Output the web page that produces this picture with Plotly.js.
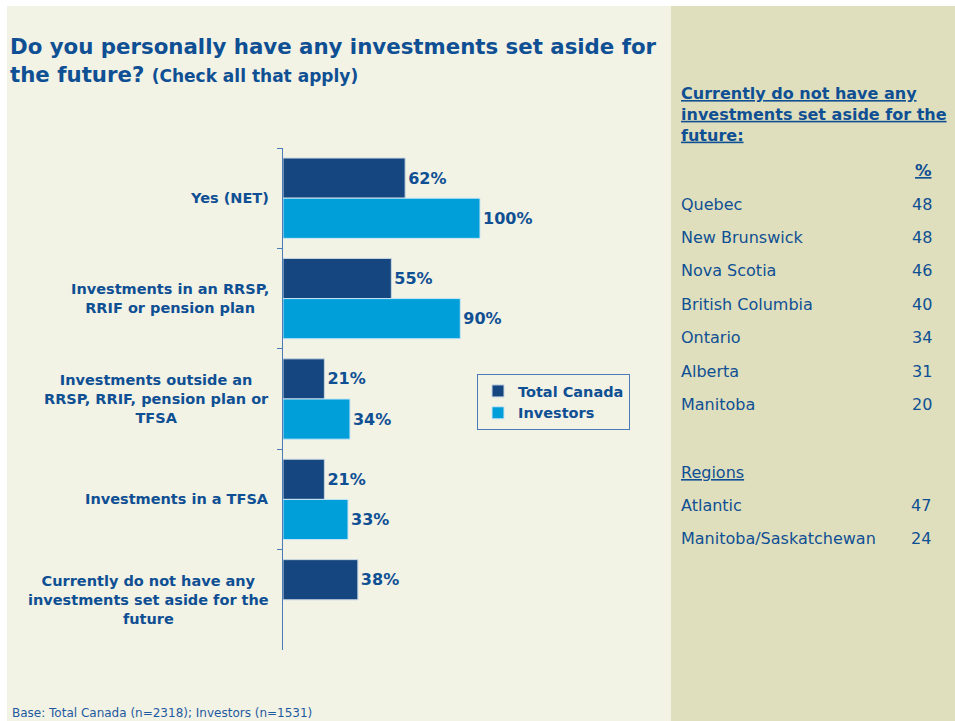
<!DOCTYPE html>
<html>
<head>
<meta charset="utf-8">
<script src="https://cdn.plot.ly/plotly-3.0.1.min.js"></script>
<style>html,body{margin:0;padding:0;background:#fff;}#chart{width:955px;height:721px;}</style>
</head>
<body>
<div id="chart"></div>
<script>
// ---- data ----
const categories = ['yes', 'rrsp', 'outside', 'tfsa', 'none'];
const categoryLabels = [
  'Yes (NET)',
  'Investments in an RRSP,<br>RRIF or pension plan',
  'Investments outside an<br>RRSP, RRIF, pension plan or<br>TFSA',
  'Investments in a TFSA',
  'Currently do not have any<br>investments set aside for the<br>future'
];
const totalCanada = [62, 55, 21, 21, 38];
const investors = [100, 90, 34, 33, null];
const seriesNames = ['Total Canada', 'Investors'];

const provinces = ['Quebec', 'New Brunswick', 'Nova Scotia', 'British Columbia', 'Ontario', 'Alberta', 'Manitoba'];
const provincePct = [48, 48, 46, 40, 34, 31, 20];
const regions = ['Atlantic', 'Manitoba/Saskatchewan'];
const regionPct = [47, 24];

const panelTitle = 'Currently do not have any<br>investments set aside for the<br>future:';
const footnote = 'Base: Total Canada (n=2318); Investors (n=1531)';

// ---- layout helpers (pixel -> paper) ----
const W = 955, H = 721;
const L = 283, R = 660, T = 148, B = 650;
const px = x => (x - L) / (R - L);
const py = y => (B - y) / (B - T);

const FONT = 'DejaVu Sans';
const BLUE = '#0f4f93';
const DARK = '#16467f';
const LIGHT = '#009fd9';

const traces = [
  {
    type: 'bar', orientation: 'h', name: seriesNames[0],
    y: categories, x: totalCanada,
    marker: {color: DARK, line: {color: '#c9d6e3', width: 1}},
    texttemplate: '%{x}%', textposition: 'outside', cliponaxis: false,
    textfont: {family: FONT, size: 16, color: BLUE, weight: 'bold'},
    hoverinfo: 'none'
  },
  {
    type: 'bar', orientation: 'h', name: seriesNames[1],
    y: categories, x: investors,
    marker: {color: LIGHT, line: {color: '#c9e6f3', width: 1}},
    texttemplate: '%{x}%', textposition: 'outside', cliponaxis: false,
    textfont: {family: FONT, size: 16, color: BLUE, weight: 'bold'},
    hoverinfo: 'none'
  }
];

const annotations = [];
categories.forEach((c, i) => {
  annotations.push({
    xref: 'paper', yref: 'y', x: px(271), y: c,
    xanchor: 'right', yanchor: 'middle', align: 'center',
    text: '<b>' + categoryLabels[i] + '</b>', showarrow: false,
    font: {family: FONT, size: 14.5, color: BLUE}
  });
});

// right panel
annotations.push({
  xref: 'paper', yref: 'paper', x: px(679), y: py(82), xanchor: 'left', yanchor: 'top', align: 'left',
  text: '<b><u>' + panelTitle.split('<br>').join('</u></b><br><b><u>') + '</u></b>', showarrow: false,
  font: {family: FONT, size: 16, color: BLUE}
});
annotations.push({
  xref: 'paper', yref: 'paper', x: px(934), y: py(171), xanchor: 'right', yanchor: 'middle',
  text: '<b><u>%</u></b>', showarrow: false, font: {family: FONT, size: 16.5, color: BLUE}
});
const rowY0 = 204, rowStep = 33.4;
provinces.forEach((p, i) => {
  const y = py(rowY0 + i * rowStep);
  annotations.push({xref: 'paper', yref: 'paper', x: px(679), y: y, xanchor: 'left', yanchor: 'middle',
    text: p, showarrow: false, font: {family: FONT, size: 16, color: BLUE}});
  annotations.push({xref: 'paper', yref: 'paper', x: px(934), y: y, xanchor: 'right', yanchor: 'middle',
    text: String(provincePct[i]), showarrow: false, font: {family: FONT, size: 16, color: BLUE}});
});
annotations.push({xref: 'paper', yref: 'paper', x: px(679), y: py(472), xanchor: 'left', yanchor: 'middle',
  text: '<u>Regions</u>', showarrow: false, font: {family: FONT, size: 16, color: BLUE}});
regions.forEach((r, i) => {
  const y = py(505 + i * rowStep);
  annotations.push({xref: 'paper', yref: 'paper', x: px(679), y: y, xanchor: 'left', yanchor: 'middle',
    text: r, showarrow: false, font: {family: FONT, size: 16, color: BLUE}});
  annotations.push({xref: 'paper', yref: 'paper', x: px(933), y: y, xanchor: 'right', yanchor: 'middle',
    text: String(regionPct[i]), showarrow: false, font: {family: FONT, size: 16, color: BLUE}});
});
annotations.push({xref: 'paper', yref: 'paper', x: px(10), y: py(713), xanchor: 'left', yanchor: 'middle',
  text: footnote, showarrow: false, font: {family: FONT, size: 12, color: '#1f5aa0'}});

const layout = {
  width: W, height: H,
  margin: {l: L, r: W - R, t: T, b: H - B, pad: 0},
  paper_bgcolor: '#ffffff', plot_bgcolor: 'rgba(0,0,0,0)',
  font: {family: FONT, color: BLUE},
  title: {
    text: '<b>Do you personally have any investments set aside for<br>the future? <span style="font-size:17px">(Check all that apply)</span></b>',
    x: 10 / W, xanchor: 'left', xref: 'container',
    y: 1 - 54 / H, yanchor: 'top', yref: 'container',
    font: {family: FONT, size: 21.3, color: BLUE}
  },
  barmode: 'group', bargap: 0.2, bargroupgap: 0,
  xaxis: {visible: false, range: [0, (R - L) / 1.97], fixedrange: true},
  yaxis: {
    type: 'category', autorange: 'reversed', showticklabels: false,
    showline: true, linecolor: '#4a7bb7', linewidth: 1,
    ticks: 'outside', tickson: 'boundaries', ticklen: 5, tickcolor: '#4a7bb7',
    showgrid: false, zeroline: false, fixedrange: true
  },
  showlegend: true,
  legend: {
    x: px(477), y: py(374), xanchor: 'left', yanchor: 'top',
    bgcolor: 'rgba(0,0,0,0)', bordercolor: '#4a7bb7', borderwidth: 1,
    font: {family: FONT, size: 14.5, color: BLUE, weight: 'bold'},
    traceorder: 'normal'
  },
  shapes: [
    {type: 'rect', xref: 'paper', yref: 'paper', x0: px(7), x1: px(671), y0: py(721), y1: py(6),
      fillcolor: '#f2f2e5', line: {width: 0}, layer: 'below'},
    {type: 'rect', xref: 'paper', yref: 'paper', x0: px(671), x1: px(955), y0: py(721), y1: py(6),
      fillcolor: '#dfdfbd', line: {width: 0}, layer: 'below'}
  ],
  annotations: annotations
};

Plotly.newPlot('chart', traces, layout, {displayModeBar: false, staticPlot: true});
</script>
</body>
</html>
